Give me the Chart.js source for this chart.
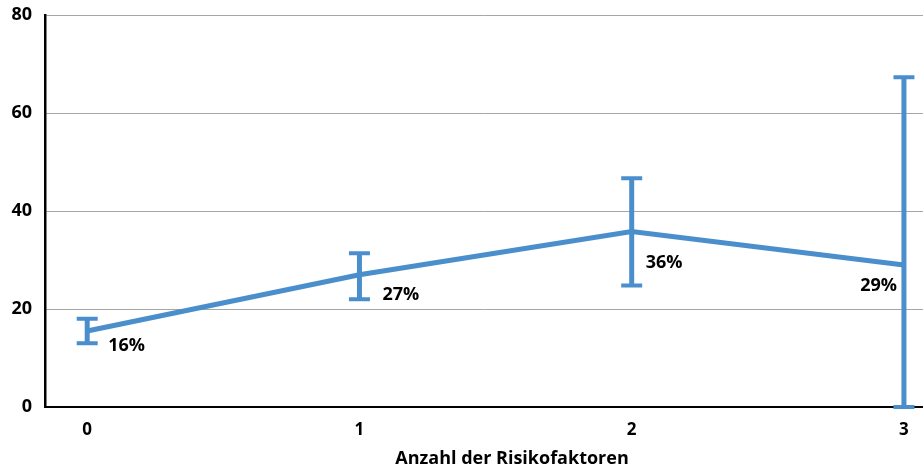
<!DOCTYPE html>
<html><head><meta charset="utf-8">
<script src="https://cdn.jsdelivr.net/npm/chart.js@4"></script>
<style>html,body{margin:0;padding:0;background:#fff}#wrap{width:923px;height:475px}</style>
</head><body><div id="wrap"><canvas id="c" width="923" height="475"></canvas></div>
<script>
const categories = [0, 1, 2, 3];
const values = [15.5, 27, 35.8, 29];
const lowerBound = [13, 22, 24.8, 0];
const upperBound = [18, 31.4, 46.7, 67.3];
const valueLabels = ['16%', '27%', '36%', '29%'];
const yTicks = [0, 20, 40, 60, 80];
const xTitle = 'Anzahl der Risikofaktoren';

const BLUE = '#4a8fcc';
const FONT = '"Open Sans", "DejaVu Sans", sans-serif';
// label placement (style only): dx, dy from point, alignment
const labelStyle = [
  {dx: 21, dy: 20, align: 'left'},
  {dx: 23, dy: 25, align: 'left'},
  {dx: 14, dy: 36, align: 'left'},
  {dx: -7, dy: 26, align: 'right'}
];

const extras = {
  id: 'extras',
  afterDatasetsDraw(chart) {
    const ctx = chart.ctx, xs = chart.scales.x, ys = chart.scales.y;
    ctx.save();
    ctx.strokeStyle = BLUE;
    categories.forEach((c, i) => {
      const x = xs.getPixelForValue(c);
      const yl = ys.getPixelForValue(lowerBound[i]);
      const yh = ys.getPixelForValue(upperBound[i]);
      ctx.lineWidth = 5;
      ctx.beginPath(); ctx.moveTo(x, yl); ctx.lineTo(x, yh); ctx.stroke();
      ctx.lineWidth = 4;
      ctx.beginPath(); ctx.moveTo(x - 10.5, yl); ctx.lineTo(x + 10.5, yl);
      ctx.moveTo(x - 10.5, yh); ctx.lineTo(x + 10.5, yh); ctx.stroke();
    });
    ctx.fillStyle = '#000';
    ctx.font = 'bold 18px ' + FONT;
    ctx.textBaseline = 'alphabetic';
    categories.forEach((c, i) => {
      const st = labelStyle[i];
      ctx.textAlign = st.align;
      ctx.fillText(valueLabels[i], xs.getPixelForValue(c) + st.dx, ys.getPixelForValue(values[i]) + st.dy);
    });
    ctx.textAlign = 'center';
    ctx.fillText(xTitle, 512, 464);
    ctx.restore();
  }
};

new Chart(document.getElementById('c'), {
  type: 'line',
  data: {
    datasets: [{
      data: categories.map((c, i) => ({x: c, y: values[i]})),
      borderColor: BLUE,
      borderWidth: 5,
      pointRadius: 0,
      tension: 0,
      clip: false
    }]
  },
  options: {
    responsive: false,
    animation: false,
    layout: {padding: {top: 15, right: 0, left: 0, bottom: 0}},
    plugins: {legend: {display: false}, tooltip: {enabled: false}},
    scales: {
      x: {
        type: 'linear',
        min: -0.155, max: 3.07,
        afterBuildTicks: s => { s.ticks = categories.map(v => ({value: v})); },
        afterFit: s => { s.height = 68; },
        grid: {display: false, drawTicks: false},
        border: {color: '#000', width: 2},
        ticks: {padding: 13, color: '#000', font: {family: FONT, size: 17, weight: 'bold'}}
      },
      y: {
        min: 0, max: 80,
        afterBuildTicks: s => { s.ticks = yTicks.map(v => ({value: v})); },
        afterFit: s => { s.width = 45; s.paddingTop = 0; s.paddingBottom = 0; },
        grid: {drawTicks: false, color: ctx => ctx.tick && ctx.tick.value === 0 ? 'rgba(0,0,0,0)' : '#a6a6a6', lineWidth: 1},
        border: {color: '#000', width: 2.5},
        ticks: {padding: 13, color: '#000', font: {family: FONT, size: 18, weight: 'bold'}}
      }
    }
  },
  plugins: [extras]
});
</script></body></html>
